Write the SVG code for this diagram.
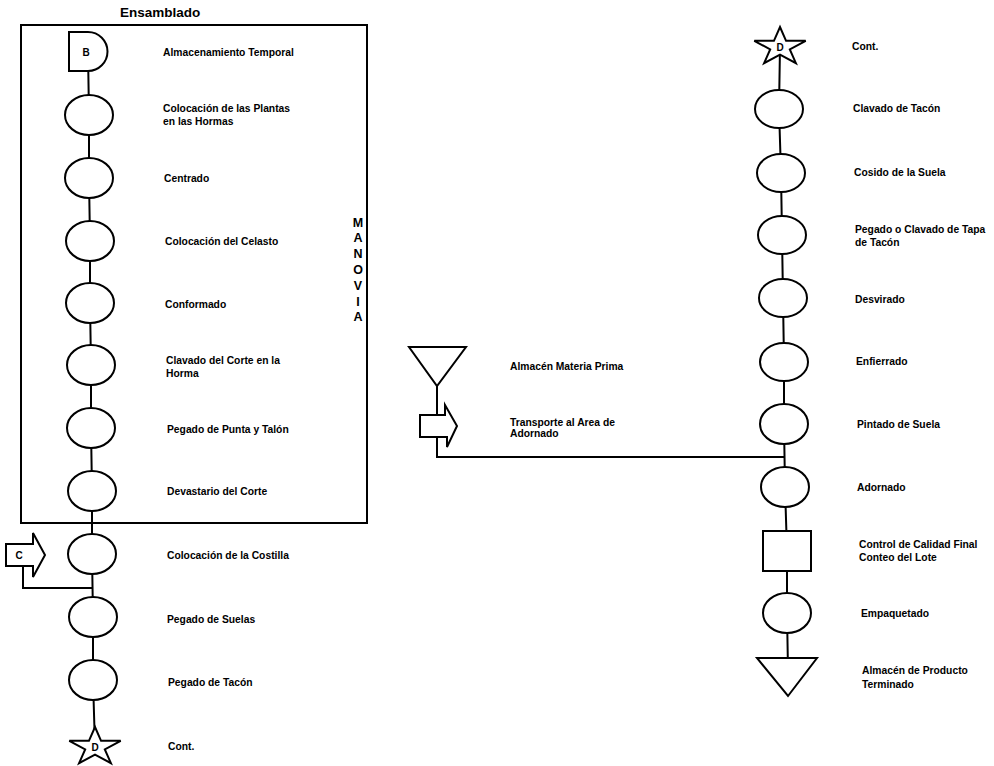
<svg xmlns="http://www.w3.org/2000/svg" width="994" height="766" viewBox="0 0 994 766">
<style>
.sh{fill:#fff;stroke:#000;stroke-width:2}
.cn{fill:none;stroke:#000;stroke-width:2}
.lb{font-family:"Liberation Sans",Arial,sans-serif;font-weight:bold;font-size:10.3px;fill:#000}
.tt{font-family:"Liberation Sans",Arial,sans-serif;font-weight:bold;font-size:13.5px;fill:#000}
.mv{font-family:"Liberation Sans",Arial,sans-serif;font-weight:bold;font-size:12.5px;fill:#000;text-anchor:middle}
.in{font-family:"Liberation Sans",Arial,sans-serif;font-weight:bold;font-size:10px;fill:#000;text-anchor:middle}
</style>
<defs>
<polygon id="star" points="0,-20 6.06,-6.18 25.7,-6.18 9.81,2.36 15.9,16.18 0,7.64 -15.9,16.18 -9.81,2.36 -25.7,-6.18 -6.06,-6.18"/>
</defs>
<rect width="994" height="766" fill="#fff"/>
<text class="tt" x="120" y="17">Ensamblado</text>
<rect x="21" y="25" width="346" height="498" fill="none" stroke="#000" stroke-width="2"/>
<g class="mv">
<text x="358" y="226.5">M</text><text x="358" y="242.3">A</text><text x="358" y="258.1">N</text><text x="358" y="273.9">O</text><text x="358" y="289.7">V</text><text x="358" y="305.5">I</text><text x="358" y="321.3">A</text>
</g>
<g id="connectors">
<polyline class="cn" points="88,52 89,115 89,178 90,241 90,303 91,365 91,428 92,491 92,554 93,617 93,680 95,747"/>
<polyline class="cn" points="23,566 23,588 93,588"/>
<polyline class="cn" points="437,370 437,457 785,457"/>
<polyline class="cn" points="780,47 779,109 781,173 782,235 783,298 784,362 784,424 785,487 787,551 787,613 788,670"/>
</g>
<g id="n_almacenamiento"><path class="sh" d="M69,32 H88 A19.5,19.5 0 0 1 88,71 H69 Z"/><text class="in" x="86" y="55.5">B</text><text class="lb" x="163" y="55.5">Almacenamiento Temporal</text></g>
<g id="n_plantas"><ellipse class="sh" cx="89" cy="115" rx="24" ry="20"/><text class="lb" x="163" y="111.5">Colocación de las Plantas</text><text class="lb" x="163" y="124.5">en las Hormas</text></g>
<g id="n_centrado"><ellipse class="sh" cx="89" cy="178" rx="24" ry="20"/><text class="lb" x="164" y="181.5">Centrado</text></g>
<g id="n_celasto"><ellipse class="sh" cx="90" cy="241" rx="24" ry="20"/><text class="lb" x="165" y="245">Colocación del Celasto</text></g>
<g id="n_conformado"><ellipse class="sh" cx="90" cy="303" rx="24" ry="20"/><text class="lb" x="165" y="307.5">Conformado</text></g>
<g id="n_clavado_corte"><ellipse class="sh" cx="91" cy="365" rx="24" ry="20"/><text class="lb" x="166" y="363.5">Clavado del Corte en la</text><text class="lb" x="166" y="376.5">Horma</text></g>
<g id="n_punta"><ellipse class="sh" cx="91" cy="428" rx="24" ry="20"/><text class="lb" x="167" y="432.5">Pegado de Punta y Talón</text></g>
<g id="n_devastario"><ellipse class="sh" cx="92" cy="491" rx="24" ry="20"/><text class="lb" x="167" y="495">Devastario del Corte</text></g>
<g id="n_costilla"><ellipse class="sh" cx="92" cy="554" rx="24" ry="20"/><text class="lb" x="167" y="558.5">Colocación de la Costilla</text></g>
<g id="n_c"><path class="sh" d="M6,544 H33 V533 L45,555 L33,577 V566 H6 Z"/><text class="in" x="19" y="559">C</text></g>
<g id="n_suelas"><ellipse class="sh" cx="93" cy="617" rx="24" ry="20"/><text class="lb" x="167" y="622.5">Pegado de Suelas</text></g>
<g id="n_tacon"><ellipse class="sh" cx="93" cy="680" rx="24" ry="20"/><text class="lb" x="168" y="685.5">Pegado de Tacón</text></g>
<g id="n_cont_left"><use href="#star" class="sh" x="95" y="747"/><text class="in" x="95" y="751">D</text><text class="lb" x="168" y="750">Cont.</text></g>
<g id="n_materia_prima"><polygon class="sh" points="409,347 466,347 437,386"/><text class="lb" x="510" y="369.5">Almacén Materia Prima</text></g>
<g id="n_transporte"><path class="sh" d="M420,415 H445 V405 L457,426 L447,447 V437 H420 Z"/><text class="lb" x="510" y="425.5">Transporte al Area de</text><text class="lb" x="510" y="437">Adornado</text></g>
<g id="n_cont_right"><use href="#star" class="sh" x="780" y="47"/><text class="in" x="780" y="51">D</text><text class="lb" x="852" y="50">Cont.</text></g>
<g id="n_clavado_tacon"><ellipse class="sh" cx="779" cy="109" rx="24" ry="19"/><text class="lb" x="853" y="111.5">Clavado de Tacón</text></g>
<g id="n_cosido"><ellipse class="sh" cx="781" cy="173" rx="24" ry="19"/><text class="lb" x="854" y="175.5">Cosido de la Suela</text></g>
<g id="n_tapa"><ellipse class="sh" cx="782" cy="235" rx="24" ry="19"/><text class="lb" x="855" y="232.5">Pegado o Clavado de Tapa</text><text class="lb" x="855" y="246">de Tacón</text></g>
<g id="n_desvirado"><ellipse class="sh" cx="783" cy="298" rx="24" ry="19"/><text class="lb" x="855" y="302.5">Desvirado</text></g>
<g id="n_enfierrado"><ellipse class="sh" cx="784" cy="362" rx="24" ry="19"/><text class="lb" x="856" y="364.5">Enfierrado</text></g>
<g id="n_pintado"><ellipse class="sh" cx="784" cy="424" rx="24" ry="20"/><text class="lb" x="857" y="427.5">Pintado de Suela</text></g>
<g id="n_adornado"><ellipse class="sh" cx="785" cy="487" rx="24" ry="20"/><text class="lb" x="857" y="490.5">Adornado</text></g>
<g id="n_control"><rect class="sh" x="763" y="531" width="48" height="40"/><text class="lb" x="859" y="547.5">Control de Calidad Final</text><text class="lb" x="859" y="560.5">Conteo del Lote</text></g>
<g id="n_empaquetado"><ellipse class="sh" cx="787" cy="613" rx="24" ry="20"/><text class="lb" x="861" y="616.5">Empaquetado</text></g>
<g id="n_producto"><polygon class="sh" points="757,658 817,658 788,696"/><text class="lb" x="862" y="673.5">Almacén de Producto</text><text class="lb" x="862" y="687.5">Terminado</text></g>
</svg>
